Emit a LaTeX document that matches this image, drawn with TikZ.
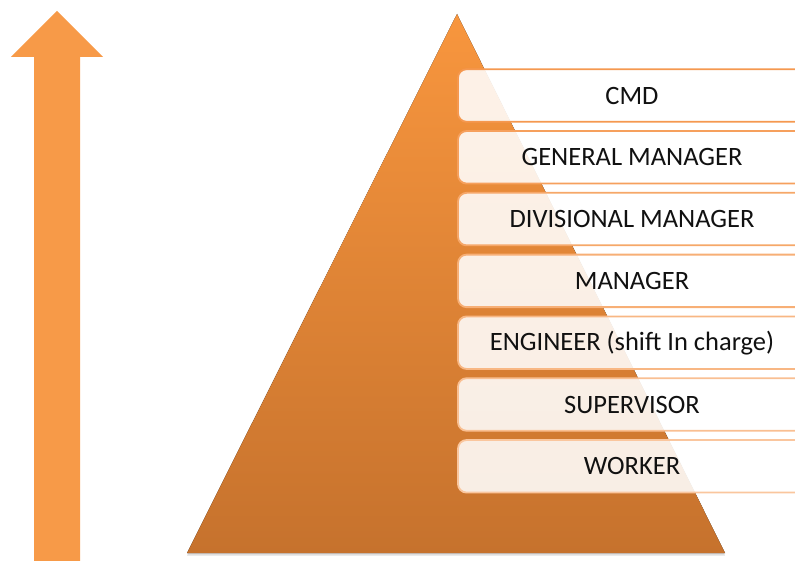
\documentclass[tikz,border=0pt]{standalone}
\usepackage{fontspec}
\setmainfont{Carlito}
\usepackage{tikz}
\usetikzlibrary{positioning,shadows}
\definecolor{pyrtop}{HTML}{F8963E}
\definecolor{pyrbot}{HTML}{C6722D}
\definecolor{arrowfill}{HTML}{F79A48}
\definecolor{tierline}{HTML}{F5984F}
\definecolor{darktext}{HTML}{111111}
\tikzset{
  tier/.style={draw=tierline,line width=1.8pt,rounded corners=3mm,fill=white,fill opacity=0.88,text opacity=1,
    minimum width=348pt,minimum height=52.5pt,inner sep=0pt,align=center,
    font=\fontsize{26.5}{30}\selectfont,text=darktext},
  rankarrow/.style={fill=arrowfill,draw=none}
}

\begin{document}
\begin{tikzpicture}[x=1pt,y=-1pt,node distance=7.5pt]
  \useasboundingbox (0,0) rectangle (795,561);
  \clip (0,0) rectangle (795,561);

  % rising arrow on the left
  \fill[rankarrow] (57,11) -- (103,57) -- (80,57) -- (80,565) -- (34,565) -- (34,57) -- (11,57) -- cycle;

  % pyramid
  \fill[top color=pyrtop,bottom color=pyrbot,drop shadow={opacity=0.25,shadow xshift=0pt,shadow yshift=-2.5pt}]
    (457,14) -- (725,553) -- (187,553) -- cycle;

  % ranks, top to bottom
  \node[tier] (cmd) at (632,95.5) {CMD};
  \node[tier,below=of cmd,draw=tierline!92!white] (gm) {GENERAL MANAGER};
  \node[tier,below=of gm,draw=tierline!85!white] (dm) {DIVISIONAL MANAGER};
  \node[tier,below=of dm,draw=tierline!78!white] (mgr) {MANAGER};
  \node[tier,below=of mgr,draw=tierline!70!white] (eng) {ENGINEER (shift In charge)};
  \node[tier,below=of eng,draw=tierline!62!white] (sup) {SUPERVISOR};
  \node[tier,below=of sup,draw=tierline!55!white] (wrk) {WORKER};
\end{tikzpicture}
\end{document}
